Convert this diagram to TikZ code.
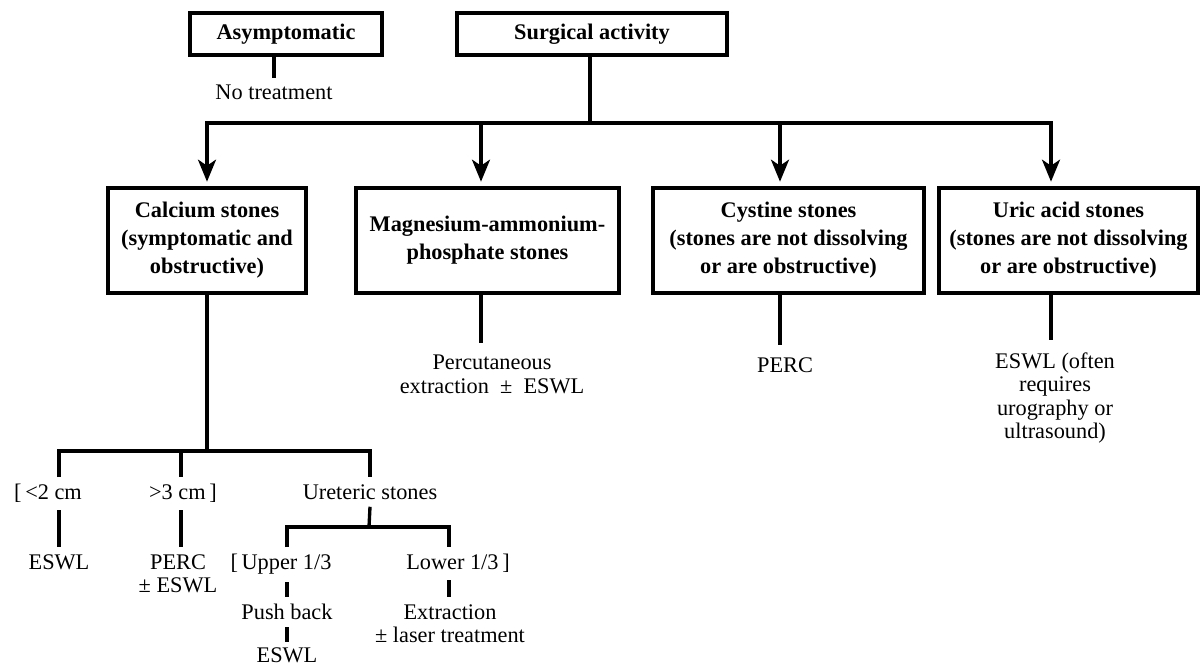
\documentclass[tikz,border=0pt]{standalone}
\usepackage{fontspec}
\setmainfont{Liberation Serif}
\usepackage{tikz}
\usetikzlibrary{arrows.meta,positioning,calc}

\newcommand{\boxfont}{\fontsize{12.7}{15.9}\selectfont\bfseries}
\newcommand{\txtfont}{\fontsize{12.7}{13.4}\selectfont}

\tikzset{
	box/.style={draw, line width=2.2pt, align=center, font=\boxfont, inner sep=2pt},
	txt/.style={align=center, font=\txtfont, inner sep=4pt, anchor=north},
	link/.style={line width=1.9pt},
	tip/.style={-{Stealth[length=0.44cm,width=0.36cm,inset=0.12cm]}, shorten >=2.5pt},
}

\begin{document}
\begin{tikzpicture}[x=0.02cm, y=-0.02cm]
	\useasboundingbox (0,0) rectangle (1202,666);

	% top row
	\node[box, minimum width=3.84cm, minimum height=0.84cm] (asym) at (286,34) {Asymptomatic};
	\node[box, minimum width=5.4cm, minimum height=0.84cm] (surg) at (592,34) {Surgical activity};
	\node[txt] (notreat) at (274,78) {No treatment};
	\draw[link] (asym.south -| notreat.north) -- (notreat.north);

	% stone types
	\node[box, minimum width=3.96cm, minimum height=2.1cm] (calc) at (207,240.5) {Calcium stones\\(symptomatic and\\obstructive)};
	\node[box, minimum width=5.26cm, minimum height=2.1cm] (mag) at (487.5,240.5) {Magnesium-ammonium-\\phosphate stones};
	\node[box, minimum width=5.42cm, minimum height=2.1cm] (cyst) at (788.5,240.5) {Cystine stones\\(stones are not dissolving\\or are obstructive)};
	\node[box, minimum width=5.18cm, minimum height=2.1cm] (uric) at (1068.5,240.5) {Uric acid stones\\(stones are not dissolving\\or are obstructive)};

	\coordinate (bar) at (590,123);
	\coordinate (barL) at (207,123);
	\coordinate (barR) at (1051,123);
	\coordinate (b2) at (481,123);
	\coordinate (b3) at (780,123);
	\draw[link] (surg.south -| bar) -- (bar);
	\draw[link, {Stealth[length=0.44cm,width=0.36cm,inset=0.12cm]}-{Stealth[length=0.44cm,width=0.36cm,inset=0.12cm]}, shorten <=2.5pt, shorten >=2.5pt] (calc.north) -- (barL) -- (barR) -- (barR |- uric.north);
	\draw[link, tip] (b2) -- (b2 |- mag.north);
	\draw[link, tip] (b3) -- (b3 |- cyst.north);

	% treatments
	\node[txt] (percut) at (492,348) {Percutaneous\\extraction~ ±~ ESWL};
	\node[txt] (perc) at (785,350) {PERC};
	\node[txt] (uesw) at (1055,345) {ESWL (often\\requires\\urography or\\ultrasound)};
	\draw[link] (mag.south -| b2) -- ([yshift=3pt]percut.north -| b2);
	\draw[link] (cyst.south -| b3) -- ([yshift=3pt]perc.north -| b3);
	\draw[link] (uric.south -| barR) -- ([yshift=3pt]uesw.north -| barR);

	% calcium stones by size
	\coordinate (k1) at (59,451);
	\coordinate (k2) at (181,451);
	\coordinate (k3) at (370,451);
	\node[txt] (lt2) at (48,477) {[\,<2 cm};
	\node[txt] (gt3) at (183,477) {>3 cm\,]};
	\node[txt] (ureter) at (370,477) {Ureteric stones};
	\draw[link] (calc.south) -- (calc.south |- k1);
	\draw[link] (k1 |- lt2.north) -- (k1) -- (k3) -- (k3 |- ureter.north);
	\draw[link] (k2) -- (k2 |- gt3.north);

	\node[txt] (eswl1) at (59,547) {ESWL};
	\node[txt] (perc2) at (178,547) {PERC\\± ESWL};
	\draw[link] (k1 |- lt2.south) -- (k1 |- eswl1.north);
	\draw[link] (k2 |- gt3.south) -- (k2 |- perc2.north);

	% ureteric stones
	\coordinate (u0) at (369,527);
	\coordinate (uL) at (287,527);
	\coordinate (uR) at (449,527);
	\node[txt] (upper) at (281,547) {[\,Upper 1/3};
	\node[txt] (lower) at (458,547) {Lower 1/3\,]};
	\draw[link] (ureter.south) -- (u0);
	\draw[link] (uL |- upper.north) -- (uL) -- (uR) -- (uR |- lower.north);

	\node[txt] (push) at (287,597) {Push back};
	\node[txt, inner sep=3pt] (eswl3) at (287,642) {ESWL};
	\node[txt] (extr) at (450,597) {Extraction\\± laser treatment};
	\draw[link] (uL |- upper.south) -- (uL |- push.north);
	\draw[link] (uL |- push.south) -- (uL |- eswl3.north);
	\draw[link] (uR |- lower.south) -- (uR |- extr.north);
\end{tikzpicture}
\end{document}
